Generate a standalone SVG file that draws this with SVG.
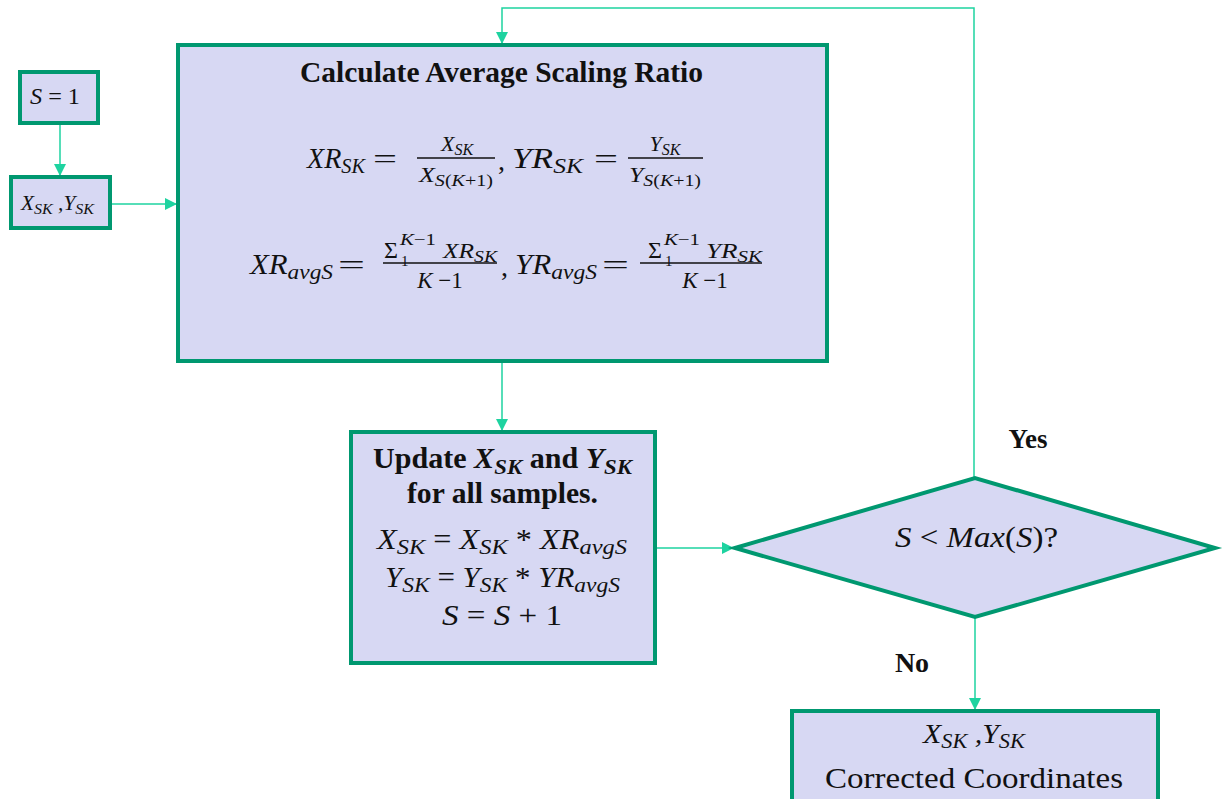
<svg xmlns="http://www.w3.org/2000/svg" width="1223" height="799" viewBox="0 0 1223 799">
<style>
.box{fill:#D7D8F3;stroke:#009870;stroke-width:4}
.conn{fill:none;stroke:#1ED3A0;stroke-width:1.5}
text{font-family:"Liberation Serif","Times New Roman",serif;fill:#111}
.m{font-style:italic}
.u{font-style:normal}
.b{font-weight:bold}
.bar{stroke:#111;stroke-width:1.5}
</style>
<defs>
<marker id="ah" viewBox="0 0 10 10" refX="10" refY="5" markerUnits="userSpaceOnUse" markerWidth="12" markerHeight="12" orient="auto">
<path d="M0,0 L10,5 L0,10 z" fill="#1ED3A0"/>
</marker>
</defs>
<rect width="1223" height="799" fill="#fff"/>

<g id="connectors">
<line class="conn" x1="60" y1="125" x2="60" y2="176" marker-end="url(#ah)"/>
<line class="conn" x1="110" y1="204" x2="177" y2="204" marker-end="url(#ah)"/>
<line class="conn" x1="502" y1="361" x2="502" y2="431" marker-end="url(#ah)"/>
<line class="conn" x1="655" y1="548" x2="734" y2="548" marker-end="url(#ah)"/>
<polyline class="conn" points="974,478 974,8 502,8 502,44" marker-end="url(#ah)"/>
<line class="conn" x1="975" y1="618" x2="975" y2="710" marker-end="url(#ah)"/>
</g>

<g id="node-s1">
<rect class="box" x="20" y="72" width="78" height="51"/>
<text class="m" x="30" y="104" font-size="24" textLength="50" lengthAdjust="spacingAndGlyphs">S <tspan class="u">= 1</tspan></text>
</g>

<g id="node-xy">
<rect class="box" x="11" y="177" width="99" height="51"/>
<text class="m" x="21" y="210" font-size="20" textLength="73" lengthAdjust="spacingAndGlyphs">X<tspan font-size="15" dy="4">SK</tspan><tspan dy="-4"> ,Y</tspan><tspan font-size="15" dy="4">SK</tspan></text>
</g>

<g id="node-calc">
<rect class="box" x="178" y="45" width="649" height="316"/>
<text class="b" x="300" y="82" font-size="29" textLength="403" lengthAdjust="spacingAndGlyphs">Calculate Average Scaling Ratio</text>
<!-- row 1 -->
<text class="m" x="307" y="168" font-size="29" textLength="58" lengthAdjust="spacingAndGlyphs">XR<tspan font-size="21" dy="5">SK</tspan></text>
<text x="373" y="168" font-size="28" textLength="24" lengthAdjust="spacingAndGlyphs">=</text>
<text class="m" x="457" y="151" text-anchor="middle" font-size="22">X<tspan font-size="16" dy="4">SK</tspan></text>
<line class="bar" x1="417" y1="158" x2="495" y2="158"/>
<text class="m" x="419" y="182" font-size="22" textLength="74" lengthAdjust="spacingAndGlyphs">X<tspan font-size="17" dy="4">S<tspan class="u">(</tspan>K<tspan class="u">+1)</tspan></tspan></text>
<text x="498" y="170" font-size="28">,</text>
<text class="m" x="512" y="168" font-size="29" textLength="71" lengthAdjust="spacingAndGlyphs">YR<tspan font-size="21" dy="5">SK</tspan></text>
<text x="594" y="168" font-size="28" textLength="24" lengthAdjust="spacingAndGlyphs">=</text>
<text class="m" x="665" y="151" text-anchor="middle" font-size="22">Y<tspan font-size="16" dy="4">SK</tspan></text>
<line class="bar" x1="628" y1="158" x2="703" y2="158"/>
<text class="m" x="629" y="182" font-size="22" textLength="72" lengthAdjust="spacingAndGlyphs">Y<tspan font-size="17" dy="4">S<tspan class="u">(</tspan>K<tspan class="u">+1)</tspan></tspan></text>
<!-- row 2 -->
<text class="m" x="250" y="274" font-size="29" textLength="83" lengthAdjust="spacingAndGlyphs">XR<tspan font-size="22" dy="5">avgS</tspan></text>
<text x="338" y="274" font-size="28" textLength="27" lengthAdjust="spacingAndGlyphs">=</text>
<text x="384" y="258" font-size="24">Σ</text>
<text class="m" x="400" y="245" font-size="17" textLength="36" lengthAdjust="spacingAndGlyphs">K<tspan class="u">−1</tspan></text>
<text x="401" y="266" font-size="15">1</text>
<text class="m" x="443" y="258" font-size="22" textLength="54" lengthAdjust="spacingAndGlyphs">XR<tspan font-size="17" dy="4">SK</tspan></text>
<line class="bar" x1="383" y1="263" x2="497" y2="263"/>
<text class="m" x="440" y="288" text-anchor="middle" font-size="23">K <tspan class="u">−1</tspan></text>
<text x="501" y="276" font-size="28">,</text>
<text class="m" x="515" y="274" font-size="29" textLength="82" lengthAdjust="spacingAndGlyphs">YR<tspan font-size="22" dy="5">avgS</tspan></text>
<text x="602" y="274" font-size="28" textLength="27" lengthAdjust="spacingAndGlyphs">=</text>
<text x="648" y="258" font-size="24">Σ</text>
<text class="m" x="664" y="245" font-size="17" textLength="36" lengthAdjust="spacingAndGlyphs">K<tspan class="u">−1</tspan></text>
<text x="665" y="266" font-size="15">1</text>
<text class="m" x="706" y="258" font-size="22" textLength="56" lengthAdjust="spacingAndGlyphs">YR<tspan font-size="17" dy="4">SK</tspan></text>
<line class="bar" x1="640" y1="263" x2="762" y2="263"/>
<text class="m" x="705" y="288" text-anchor="middle" font-size="23">K <tspan class="u">−1</tspan></text>
</g>

<g id="node-update">
<rect class="box" x="351" y="432" width="304" height="231"/>
<text class="b" x="373" y="468" font-size="29" textLength="259" lengthAdjust="spacingAndGlyphs">Update <tspan class="m">X<tspan font-size="22" dy="6">SK</tspan></tspan><tspan dy="-6"> and </tspan><tspan class="m">Y<tspan font-size="22" dy="6">SK</tspan></tspan></text>
<text class="b" x="407" y="503" font-size="29" textLength="191" lengthAdjust="spacingAndGlyphs">for all samples.</text>
<text class="m" x="377" y="549" font-size="29" textLength="250" lengthAdjust="spacingAndGlyphs">X<tspan font-size="22" dy="5">SK</tspan><tspan class="u" dy="-5"> = </tspan>X<tspan font-size="22" dy="5">SK</tspan><tspan class="u" dy="-5"> * </tspan>XR<tspan font-size="22" dy="5">avgS</tspan></text>
<text class="m" x="385" y="587" font-size="29" textLength="235" lengthAdjust="spacingAndGlyphs">Y<tspan font-size="22" dy="5">SK</tspan><tspan class="u" dy="-5"> = </tspan>Y<tspan font-size="22" dy="5">SK</tspan><tspan class="u" dy="-5"> * </tspan>YR<tspan font-size="22" dy="5">avgS</tspan></text>
<text class="m" x="442" y="625" font-size="30" textLength="120" lengthAdjust="spacingAndGlyphs">S<tspan class="u"> = </tspan>S<tspan class="u"> + 1</tspan></text>
</g>

<g id="node-decision">
<polygon class="box" points="735,548 975,478 1215,548 975,617"/>
<text class="m" x="895" y="547" font-size="29" textLength="163" lengthAdjust="spacingAndGlyphs">S<tspan class="u"> &lt; </tspan>Max<tspan class="u">(</tspan>S<tspan class="u">)?</tspan></text>
</g>

<g id="node-result">
<rect class="box" x="792" y="711" width="366" height="96"/>
<text class="m" x="923" y="743" font-size="28" textLength="102" lengthAdjust="spacingAndGlyphs">X<tspan font-size="21" dy="5">SK</tspan><tspan dy="-5"> ,Y</tspan><tspan font-size="21" dy="5">SK</tspan></text>
<text x="825" y="788" font-size="30" textLength="298" lengthAdjust="spacingAndGlyphs">Corrected  Coordinates</text>
</g>

<g id="labels">
<text class="b" x="1028" y="448" text-anchor="middle" font-size="27">Yes</text>
<text class="b" x="912" y="672" text-anchor="middle" font-size="28">No</text>
</g>
</svg>
